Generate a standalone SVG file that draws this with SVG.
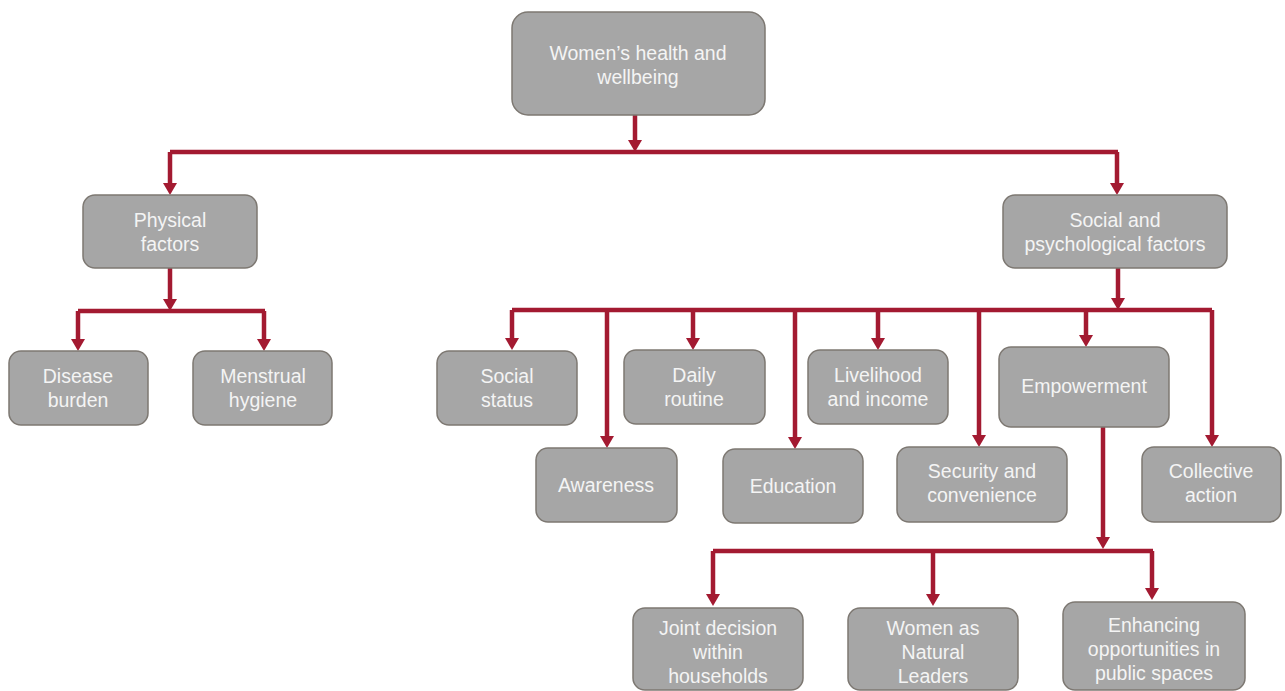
<svg xmlns="http://www.w3.org/2000/svg" width="1285" height="691" viewBox="0 0 1285 691">
<style>
.n rect{fill:#a6a6a6;stroke:#7d7872;stroke-width:1.5}
.n text{font-family:"Liberation Sans",Arial,sans-serif;font-size:19.5px;fill:#f4f4f4;text-anchor:middle}
.c path{fill:none;stroke:#a31a31;stroke-width:4.5}
.c path.a{marker-end:url(#ah)}
</style>
<defs>
<marker id="ah" markerUnits="userSpaceOnUse" markerWidth="12" markerHeight="14" refX="0" refY="7" orient="auto" viewBox="0 0 12 14">
<path d="M0,0 L12,7 L0,14 z" fill="#a31a31"/>
</marker>
</defs>
<rect width="1285" height="691" fill="#ffffff"/>
<g class="c" id="connectors">
<path class="a" d="M635,115 V140"/>
<path d="M170,152 H1118"/>
<path class="a" d="M170,152 V183"/>
<path class="a" d="M1117,152 V183"/>
<path class="a" d="M170,268 V299"/>
<path d="M78,311 H265"/>
<path class="a" d="M78,311 V339"/>
<path class="a" d="M264,311 V339"/>
<path class="a" d="M1118,268 V298"/>
<path d="M512,310 H1212"/>
<path class="a" d="M512,310 V338"/>
<path class="a" d="M607,310 V436"/>
<path class="a" d="M693,310 V338"/>
<path class="a" d="M795,310 V437"/>
<path class="a" d="M878,310 V338"/>
<path class="a" d="M979,310 V435"/>
<path class="a" d="M1086,310 V335"/>
<path class="a" d="M1212,310 V435"/>
<path class="a" d="M1103,427 V537"/>
<path d="M713,551 H1153"/>
<path class="a" d="M713,551 V594"/>
<path class="a" d="M933,551 V594"/>
<path class="a" d="M1152,551 V588"/>
</g>
<g class="n" id="n-root"><rect x="512" y="12" width="253" height="103" rx="16"/><text x="638" y="60">Women’s health and</text><text x="638" y="84">wellbeing</text></g>
<g class="n" id="n-physical"><rect x="83" y="195" width="174" height="73" rx="12"/><text x="170" y="227">Physical</text><text x="170" y="251">factors</text></g>
<g class="n" id="n-disease"><rect x="9" y="351" width="139" height="74" rx="12"/><text x="78" y="383">Disease</text><text x="78" y="407">burden</text></g>
<g class="n" id="n-menstrual"><rect x="193" y="351" width="139" height="74" rx="12"/><text x="263" y="383">Menstrual</text><text x="263" y="407">hygiene</text></g>
<g class="n" id="n-social"><rect x="1003" y="195" width="224" height="73" rx="12"/><text x="1115" y="227">Social and</text><text x="1115" y="251">psychological factors</text></g>
<g class="n" id="n-status"><rect x="437" y="351" width="140" height="74" rx="12"/><text x="507" y="383">Social</text><text x="507" y="407">status</text></g>
<g class="n" id="n-daily"><rect x="624" y="350" width="141" height="74" rx="12"/><text x="694" y="382">Daily</text><text x="694" y="406">routine</text></g>
<g class="n" id="n-livelihood"><rect x="808" y="350" width="140" height="74" rx="12"/><text x="878" y="382">Livelihood</text><text x="878" y="406">and income</text></g>
<g class="n" id="n-awareness"><rect x="536" y="448" width="141" height="74" rx="12"/><text x="606" y="492">Awareness</text></g>
<g class="n" id="n-education"><rect x="723" y="449" width="140" height="74" rx="12"/><text x="793" y="493">Education</text></g>
<g class="n" id="n-security"><rect x="897" y="447" width="170" height="75" rx="12"/><text x="982" y="478">Security and</text><text x="982" y="502">convenience</text></g>
<g class="n" id="n-empowerment"><rect x="999" y="347" width="170" height="80" rx="12"/><text x="1084" y="393">Empowerment</text></g>
<g class="n" id="n-collective"><rect x="1142" y="447" width="139" height="75" rx="12"/><text x="1211" y="478">Collective</text><text x="1211" y="502">action</text></g>
<g class="n" id="n-joint"><rect x="633" y="608" width="170" height="82" rx="12"/><text x="718" y="635">Joint decision</text><text x="718" y="659">within</text><text x="718" y="683">households</text></g>
<g class="n" id="n-leaders"><rect x="848" y="608" width="170" height="82" rx="12"/><text x="933" y="635">Women as</text><text x="933" y="659">Natural</text><text x="933" y="683">Leaders</text></g>
<g class="n" id="n-public"><rect x="1063" y="602" width="182" height="88" rx="12"/><text x="1154" y="632">Enhancing</text><text x="1154" y="656">opportunities in</text><text x="1154" y="680">public spaces</text></g>
</svg>
